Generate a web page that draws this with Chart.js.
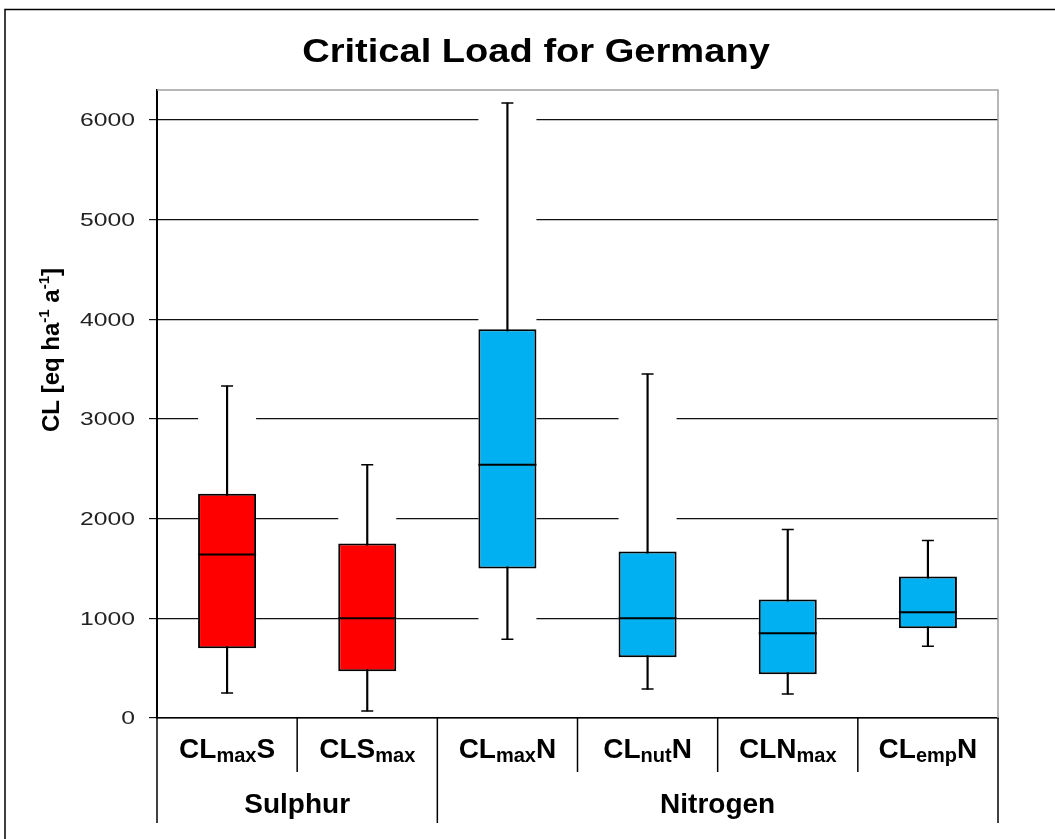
<!DOCTYPE html>
<html>
<head>
<meta charset="utf-8">
<script src="https://cdn.jsdelivr.net/npm/chart.js@4.4.1/dist/chart.umd.min.js"></script>
<style>
  html, body { margin: 0; padding: 0; background: #fff; }
  #wrap { position: relative; width: 1055px; height: 839px; }
</style>
</head>
<body>
<div id="wrap"><canvas id="clChart"></canvas></div>
<script>
// categories, each label split in [text, isSubscript] pieces
const categories = ['CLmaxS', 'CLSmax', 'CLmaxN', 'CLnutN', 'CLNmax', 'CLempN'];
const labelParts = [
    [['CL', 0], ['max', 1], ['S', 0]],
    [['CLS', 0], ['max', 1]],
    [['CL', 0], ['max', 1], ['N', 0]],
    [['CL', 0], ['nut', 1], ['N', 0]],
    [['CLN', 0], ['max', 1]],
    [['CL', 0], ['emp', 1], ['N', 0]]
];
const groups = ['Sulphur', 'Nitrogen'];
const groupSizes = [2, 4];

// box plot values (eq ha-1 a-1)
const whiskerMin = [250, 70, 790, 290, 240, 720];
const q1 = [700, 470, 1500, 610, 440, 900];
const median = [1640, 1000, 2540, 1000, 850, 1060];
const q3 = [2250, 1750, 3900, 1670, 1190, 1420];
const whiskerMax = [3330, 2540, 6170, 3450, 1890, 1780];

const yTickValues = [0, 1000, 2000, 3000, 4000, 5000, 6000];

const boxColors = ['#FF0000', '#FF0000', '#00B0F0', '#00B0F0', '#00B0F0', '#00B0F0'];

const FONT = "'Liberation Sans', Arial, sans-serif";

// draw text squeezed/stretched horizontally
function stretchText(ctx, text, x, y, sx, align) {
    ctx.save();
    ctx.translate(x, y);
    ctx.scale(sx, 1);
    ctx.textAlign = align;
    ctx.fillText(text, 0, 0);
    ctx.restore();
}

const decorPlugin = {
    id: 'decor',
    afterDraw(chart) {
        const ctx = chart.ctx;
        const area = chart.chartArea;
        const xScale = chart.scales.x;
        const yScale = chart.scales.y;
        ctx.save();

        // outer frame
        ctx.strokeStyle = '#000';
        ctx.lineWidth = 1.5;
        ctx.beginPath();
        ctx.moveTo(5, 839);
        ctx.lineTo(5, 9.5);
        ctx.lineTo(1055, 9.5);
        ctx.stroke();

        // plot area border top / right
        ctx.strokeStyle = '#a0a0a0';
        ctx.lineWidth = 1.5;
        ctx.beginPath();
        ctx.moveTo(area.left, area.top);
        ctx.lineTo(area.right, area.top);
        ctx.lineTo(area.right, area.bottom);
        ctx.stroke();

        // title
        ctx.fillStyle = '#000';
        ctx.textBaseline = 'alphabetic';
        ctx.font = 'bold 34px ' + FONT;
        stretchText(ctx, 'Critical Load for Germany', 536, 62, 1.12, 'center');

        // y tick labels
        ctx.font = '19px ' + FONT;
        ctx.fillStyle = '#222';
        ctx.textBaseline = 'middle';
        yScale.ticks.forEach(t => {
            const y = yScale.getPixelForValue(t.value);
            stretchText(ctx, String(t.value), 135, y + 1, 1.3, 'right');
        });

        // y axis title with superscripts, rotated
        ctx.save();
        ctx.translate(52, 350);
        ctx.rotate(-Math.PI / 2);
        ctx.fillStyle = '#000';
        ctx.textBaseline = 'middle';
        const yParts = [['CL [eq ha', 0], ['-1', 1], [' a', 0], ['-1', 1], [']', 0]];
        let total = 0;
        yParts.forEach(p => {
            ctx.font = (p[1] ? 'bold 15px ' : 'bold 24px ') + FONT;
            total += ctx.measureText(p[0]).width;
        });
        let px = -total / 2;
        ctx.textAlign = 'left';
        yParts.forEach(p => {
            ctx.font = (p[1] ? 'bold 15px ' : 'bold 24px ') + FONT;
            ctx.fillText(p[0], px, p[1] ? -7 : 0);
            px += ctx.measureText(p[0]).width;
        });
        ctx.restore();

        // category boundaries
        const centers = categories.map((c, i) => xScale.getPixelForValue(i));
        const bounds = [area.left];
        for (let i = 1; i < centers.length; i++) bounds.push((centers[i - 1] + centers[i]) / 2);
        bounds.push(area.right);

        const groupEdges = [0];
        groupSizes.forEach(n => groupEdges.push(groupEdges[groupEdges.length - 1] + n));

        ctx.strokeStyle = '#000';
        ctx.lineWidth = 1.5;
        bounds.forEach((bx, i) => {
            const isGroup = groupEdges.includes(i);
            ctx.beginPath();
            ctx.moveTo(bx, area.bottom);
            ctx.lineTo(bx, area.bottom + (isGroup ? 105 : 54));
            ctx.stroke();
        });

        // category labels with subscripts
        ctx.fillStyle = '#000';
        ctx.textBaseline = 'alphabetic';
        ctx.textAlign = 'left';
        labelParts.forEach((parts, i) => {
            let w = 0;
            parts.forEach(p => {
                ctx.font = (p[1] ? 'bold 20px ' : 'bold 28px ') + FONT;
                w += ctx.measureText(p[0]).width;
            });
            let lx = centers[i] - w / 2;
            parts.forEach(p => {
                ctx.font = (p[1] ? 'bold 20px ' : 'bold 28px ') + FONT;
                ctx.fillText(p[0], lx, area.bottom + (p[1] ? 44 : 40));
                lx += ctx.measureText(p[0]).width;
            });
        });

        // group labels
        ctx.font = 'bold 28px ' + FONT;
        ctx.textAlign = 'center';
        groups.forEach((g, gi) => {
            const gx = (bounds[groupEdges[gi]] + bounds[groupEdges[gi + 1]]) / 2;
            ctx.fillText(g, gx, area.bottom + 95);
        });

        ctx.restore();
    }
};

const rangeData = whiskerMin.map((m, i) => [m, whiskerMax[i]]);

function capDataset(values, radius, width) {
    return {
        type: 'line',
        data: values,
        showLine: false,
        pointStyle: 'line',
        pointRadius: radius,
        pointHoverRadius: radius,
        pointBorderWidth: width,
        pointBorderColor: '#000',
        borderColor: '#000',
        order: 0
    };
}

const clChart = new Chart(document.getElementById('clChart'), {
    type: 'bar',
    data: {
        labels: categories,
        datasets: [
            capDataset(whiskerMax, 6, 1.5),   // top whisker caps
            capDataset(whiskerMin, 6, 1.5),   // bottom whisker caps
            capDataset(median, 29, 2),        // median line
            {
                // box q1..q3
                data: q1.map((q, i) => [q, q3[i]]),
                backgroundColor: boxColors,
                borderColor: '#000',
                borderWidth: 2,
                borderSkipped: false,
                grouped: false,
                order: 1
            },
            {
                // whisker line
                data: rangeData,
                backgroundColor: '#000',
                barThickness: 1.5,
                grouped: false,
                order: 2
            },
            {
                // white column behind the whiskers (hides the gridlines there)
                data: rangeData,
                backgroundColor: '#fff',
                grouped: false,
                order: 3
            }
        ]
    },
    options: {
        responsive: true,
        maintainAspectRatio: false,
        animation: false,
        datasets: {
            bar: { categoryPercentage: 1.0, barPercentage: 0.414 }
        },
        layout: {
            padding: { left: 0, right: 57, top: 90, bottom: 121 }
        },
        plugins: {
            legend: { display: false },
            title: { display: false },
            tooltip: { enabled: false }
        },
        scales: {
            x: {
                grid: { display: false, drawTicks: false },
                border: { display: true, color: '#000', width: 1.5 },
                ticks: { display: false },
                afterFit: scale => { scale.height = 0; }
            },
            y: {
                min: 0,
                max: 6300,
                grid: { color: '#111', lineWidth: 1.2, tickLength: 8, drawTicks: true },
                border: { display: true, color: '#000', width: 2 },
                ticks: { display: false },
                afterBuildTicks: scale => {
                    scale.ticks = yTickValues.map(v => ({ value: v }));
                },
                afterFit: scale => { scale.width = 157; }
            }
        }
    },
    plugins: [decorPlugin]
});
</script>
</body>
</html>
